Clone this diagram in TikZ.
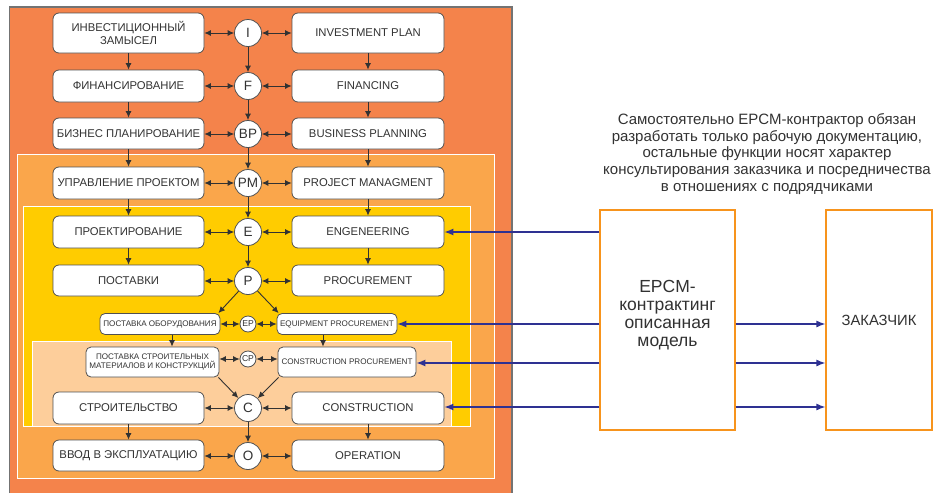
\documentclass[tikz,border=0pt]{standalone}
\usepackage{fontspec}
\setmainfont{Liberation Sans}
\usetikzlibrary{arrows.meta,calc}
\definecolor{panelA}{RGB}{244,131,75}
\definecolor{panelB}{RGB}{250,166,75}
\definecolor{panelC}{RGB}{255,204,0}
\definecolor{panelD}{RGB}{253,206,155}
\definecolor{txtgrey}{RGB}{50,50,50}
\definecolor{edgegrey}{RGB}{80,80,80}
\definecolor{navy}{RGB}{46,49,146}
\definecolor{orangeline}{RGB}{247,148,29}
\begin{document}
\begin{tikzpicture}[x=1pt,y=-1pt,
  bx/.style={draw=edgegrey, line width=0.8pt, fill=white, rounded corners=6pt,
    inner sep=0pt, align=center, text=txtgrey, font=\fontsize{11.3}{12.5}\selectfont,
    minimum height=32pt},
  lbx/.style={bx, minimum width=151pt},
  rbx/.style={bx, minimum width=152pt},
  sbx/.style={bx, rounded corners=5pt, font=\fontsize{8.1}{9.6}\selectfont, minimum height=21pt},
  crc/.style={circle, draw=edgegrey, line width=0.8pt, fill=white, inner sep=0pt,
    minimum size=27pt, text=txtgrey, font=\fontsize{13.5}{13.5}\selectfont},
  scrc/.style={crc, minimum size=16pt, font=\fontsize{8.6}{9}\selectfont},
  darr/.style={draw=txtgrey, line width=0.9pt, {Latex[length=6.5pt,width=6pt]}-{Latex[length=6.5pt,width=6pt]}},
  varr/.style={draw=txtgrey, line width=0.9pt, -{Latex[length=6.5pt,width=6pt]}},
  barr/.style={draw=navy, line width=1.3pt, -{Latex[length=9pt,width=7pt]}},
  obox/.style={draw=orangeline, line width=1.2pt, fill=white, inner sep=0pt, align=center, text=txtgrey}
]
\useasboundingbox (0,0) rectangle (939,493);
% background panels
\fill[panelA] (9.5,7) rectangle (512,493);
\draw[edgegrey!80, line width=1.5pt] (9.5,493) -- (9.5,7) -- (512,7) -- (512,493);
\filldraw[fill=panelB, draw=white, line width=1pt] (17,154) rectangle (494,478);
\filldraw[fill=panelC, draw=white, line width=1pt] (23,206) rectangle (470,426);
\filldraw[fill=panelD, draw=white, line width=1pt] (32,341) rectangle (451,426);
\draw[white, line width=1pt] (23,426) -- (470,426);

% left column
\node[lbx, minimum height=40pt] (l1) at (128.5,33) {ИНВЕСТИЦИОННЫЙ\\ЗАМЫСЕЛ};
\node[lbx] (l2) at (128.5,86) {ФИНАНСИРОВАНИЕ};
\node[lbx, minimum height=31pt] (l3) at (128.5,133.5) {БИЗНЕС ПЛАНИРОВАНИЕ};
\node[lbx] (l4) at (128.5,183) {УПРАВЛЕНИЕ ПРОЕКТОМ};
\node[lbx] (l5) at (128.5,232) {ПРОЕКТИРОВАНИЕ};
\node[lbx, minimum height=31pt] (l6) at (128.5,280.5) {ПОСТАВКИ};
\node[lbx] (l9) at (128.5,408) {СТРОИТЕЛЬСТВО};
\node[lbx, minimum height=31pt] (l10) at (128.5,455.5) {ВВОД В ЭКСПЛУАТАЦИЮ};
% right column
\node[rbx, minimum height=40pt] (r1) at (368,33) {INVESTMENT PLAN};
\node[rbx] (r2) at (368,86) {FINANCING};
\node[rbx, minimum height=31pt] (r3) at (368,133.5) {BUSINESS PLANNING};
\node[rbx] (r4) at (368,183) {PROJECT MANAGMENT};
\node[rbx] (r5) at (368,232) {ENGENEERING};
\node[rbx, minimum height=31pt] (r6) at (368,280.5) {PROCUREMENT};
\node[rbx] (r9) at (368,408) {CONSTRUCTION};
\node[rbx, minimum height=31pt] (r10) at (368,455.5) {OPERATION};
% small boxes
\node[sbx, minimum width=120pt] (epl) at (160,324) {ПОСТАВКА ОБОРУДОВАНИЯ};
\node[sbx, minimum width=120pt] (epr) at (337,324) {EQUIPMENT PROCUREMENT};
\node[sbx, minimum width=133pt, minimum height=30pt] (cpl) at (152.5,362) {ПОСТАВКА СТРОИТЕЛЬНЫХ\\МАТЕРИАЛОВ И КОНСТРУКЦИЙ};
\node[sbx, minimum width=138pt, minimum height=30pt] (cpr) at (347,362) {CONSTRUCTION PROCUREMENT};
% circles
\node[crc] (I) at (248,33) {I};
\node[crc] (F) at (248,86) {F};
\node[crc] (BP) at (248,134) {BP};
\node[crc] (PM) at (248,183) {PM};
\node[crc] (E) at (248,232) {E};
\node[crc] (P) at (248,281) {P};
\node[scrc] (EP) at (248,324) {EP};
\node[scrc] (CP) at (248,359) {CP};
\node[crc] (C) at (248,408) {C};
\node[crc] (O) at (248,456) {O};

% horizontal double arrows
\foreach \a/\b/\c in {l1/I/r1, l2/F/r2, l3/BP/r3, l4/PM/r4, l5/E/r5, l6/P/r6, epl/EP/epr, l9/C/r9, l10/O/r10}{
  \draw[darr] (\a.east |- \b) -- (\b.west);
  \draw[darr] (\b.east) -- (\c.west |- \b);
}
\draw[darr] (cpl.east |- CP) -- (CP.west);
\draw[darr] (CP.east) -- (cpr.west |- CP);

% vertical arrows
\foreach \a/\b in {l1/l2, l2/l3, l3/l4, l4/l5, l5/l6, r1/r2, r2/r3, r3/r4, r4/r5, r5/r6,
  I/F, F/BP, BP/PM, PM/E, E/P, l9/l10, r9/r10, C/O}{
  \draw[varr] (\a) -- (\b);
}
\coordinate (xl) at (172,0);
\coordinate (xr) at (323,0);
\draw[varr] (epl.south -| xl) -- (cpl.north -| xl);
\draw[varr] (epr.south -| xr) -- (cpr.north -| xr);
% diagonals
\draw[varr] (P) -- ([xshift=-2pt]epl.north east);
\draw[varr] (P) -- ([xshift=2pt]epr.north west);
\draw[varr] ([xshift=-1pt]cpl.south east) -- (C);
\draw[varr] ([xshift=1pt]cpr.south west) -- (C);

% right side
\node[text=txtgrey, align=center, font=\fontsize{15}{16.6}\selectfont] (para) at (767,154)
  {Самостоятельно EPCM-контрактор обязан\\разработать только рабочую документацию,\\остальные функции носят характер\\консультирования заказчика и посредничества\\в отношениях с подрядчиками};
\node[obox, minimum width=135pt, minimum height=220pt] (epcm) at (667.5,320) {};
\node[text=txtgrey, align=center, font=\fontsize{17.5}{18}\selectfont] (epcmtxt) at (667.5,315)
  {EPCM-\\контрактинг\\описанная\\модель};
\node[obox, minimum width=106pt, minimum height=220pt, font=\fontsize{14.8}{15}\selectfont] (zak) at (879,320)
  {ЗАКАЗЧИК};

\coordinate (y3) at (0,363);
\coordinate (y4) at (0,407);
\draw[barr] (epcm.west |- r5) -- (r5.east);
\draw[barr] (epcm.west |- epr) -- (epr.east);
\draw[barr] (epcm.west |- y3) -- (cpr.east |- y3);
\draw[barr] (epcm.west |- y4) -- (r9.east |- y4);
\draw[barr] (epcm.east |- epr) -- (zak.west |- epr);
\draw[barr] (epcm.east |- y3) -- (zak.west |- y3);
\draw[barr] (epcm.east |- y4) -- (zak.west |- y4);
\end{tikzpicture}
\end{document}
